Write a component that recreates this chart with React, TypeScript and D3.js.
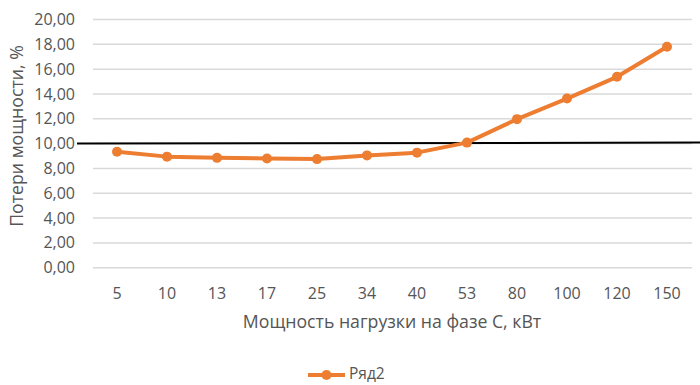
import React from "react";
import * as d3 from "d3";

const categories = ["5", "10", "13", "17", "25", "34", "40", "53", "80", "100", "120", "150"];
const values = [9.35, 8.95, 8.85, 8.8, 8.75, 9.05, 9.27, 10.08, 11.97, 13.63, 15.38, 17.8];
const yTicks = [0, 2, 4, 6, 8, 10, 12, 14, 16, 18, 20];
const refValue = 10;
const seriesName = "Ряд2";
const xTitle = "Мощность нагрузки на фазе С, кВт";
const yTitle = "Потери мощности, %";

const W = 700, H = 385;
const plot = { left: 92, right: 692, top: 19.5, bottom: 267.7 };
const orange = "#ED7D31";
const textColor = "#555555";
const font = "'Open Sans', 'Noto Sans', sans-serif";

export default function App() {
  const x = d3.scaleBand<string>().domain(categories).range([plot.left, plot.right]);
  const y = d3.scaleLinear().domain([0, 20]).range([plot.bottom, plot.top]);
  const line = d3.line<number>()
    .x((_, i) => (x(categories[i]) as number) + x.bandwidth() / 2)
    .y((d) => y(d));
  const fmt = (v: number) => v.toFixed(2).replace(".", ",");

  return (
    <svg width={W} height={H} style={{ position: "absolute", left: 0, top: 0, background: "#fff" }} fontFamily={font}>
      {yTicks.map((t) => (
        <g key={t}>
          <line x1={plot.left + 1} x2={plot.right} y1={y(t)} y2={y(t)} stroke="#d9d9d9" strokeWidth={1.5} />
          <text x={75} y={y(t)} dy="0.35em" textAnchor="end" fontSize={16} fill={textColor}>{fmt(t)}</text>
        </g>
      ))}
      {categories.map((c) => (
        <text key={c} x={(x(c) as number) + x.bandwidth() / 2} y={293} dy="0.35em" textAnchor="middle" fontSize={16} fill={textColor}>{c}</text>
      ))}
      <text x={392} y={322} dy="0.35em" textAnchor="middle" fontSize={17.7} fill={textColor}>{xTitle}</text>
      <text transform={`translate(17,136) rotate(-90)`} textAnchor="middle" dy="0.35em" fontSize={17.7} fill={textColor}>{yTitle}</text>
      <line x1={77} x2={W} y1={y(refValue)} y2={y(refValue) - 1} stroke="#000" strokeWidth={2} />
      <path d={line(values) || ""} fill="none" stroke={orange} strokeWidth={4} strokeLinejoin="round" />
      {values.map((v, i) => (
        <circle key={i} cx={(x(categories[i]) as number) + x.bandwidth() / 2} cy={y(v)} r={5} fill={orange} />
      ))}
      <g>
        <line x1={308} x2={345} y1={375} y2={375} stroke={orange} strokeWidth={4} />
        <circle cx={326.5} cy={375} r={5} fill={orange} />
        <text x={349} y={374} dy="0.35em" fontSize={15.5} fill={textColor}>{seriesName}</text>
      </g>
    </svg>
  );
}
